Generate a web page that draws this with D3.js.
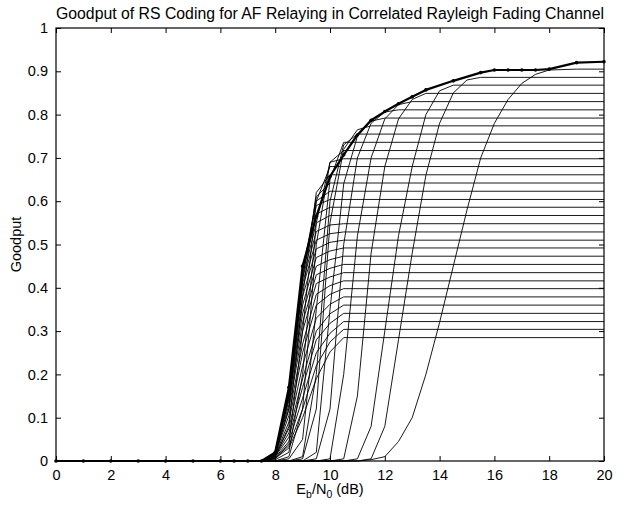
<!DOCTYPE html>
<html>
<head>
<meta charset="utf-8">
<script src="https://cdn.jsdelivr.net/npm/d3@7"></script>
<style>
  body { margin: 0; background: #fff; }
  svg text { font-family: "Liberation Sans", Arial, Helvetica, sans-serif; fill: #000; }
</style>
</head>
<body>
<div id="chart"></div>
<script>
var xTicks = [0, 2, 4, 6, 8, 10, 12, 14, 16, 18, 20];
var yTicks = [0, 0.1, 0.2, 0.3, 0.4, 0.5, 0.6, 0.7, 0.8, 0.9, 1];
var yTickLabels = ["0", "0.1", "0.2", "0.3", "0.4", "0.5", "0.6", "0.7", "0.8", "0.9", "1"];

// best (envelope) goodput, thick line with dots
var envSnr = [0, 1, 2, 3, 4, 5, 6, 6.5, 7, 7.5, 8, 8.5, 9, 9.5, 10, 10.5, 11, 11.5, 12, 12.5, 13, 13.5, 14.5, 15.5, 16, 16.5, 17, 17.5, 18, 19, 20];
var envGoodput = [0, 0, 0, 0, 0, 0, 0, 0, 0, 0, 0.02, 0.17, 0.45, 0.565, 0.657, 0.707, 0.753, 0.787, 0.807, 0.825, 0.841, 0.857, 0.878, 0.897, 0.903, 0.903, 0.903, 0.903, 0.905, 0.92, 0.922];

// one curve per RS code
var curveSnr = [
    [0, 11, 11.5, 12, 12.5, 13, 13.5, 14, 14.5, 15, 15.5, 16, 16.5, 17, 17.5, 18, 19, 20],
    [0, 11, 11.5, 12, 12.5, 13, 13.5, 14, 14.5, 15, 15.5, 20],
    [0, 10.5, 11, 11.5, 12, 12.5, 13, 13.5, 14, 14.5, 20],
    [0, 10, 10.5, 11, 11.5, 12, 12.5, 13, 13.5, 20],
    [0, 9.5, 10, 10.5, 11, 11.5, 12, 12.5, 13, 20],
    [0, 9, 9.5, 10, 10.5, 11, 11.5, 12, 12.5, 20],
    [0, 9, 9.5, 10, 10.5, 11, 11.5, 12, 20],
    [0, 8.5, 9, 9.5, 10, 10.5, 11, 11.5, 20],
    [0, 8.5, 9, 9.5, 10, 10.5, 11, 20],
    [0, 8, 8.5, 9, 9.5, 10, 10.5, 20],
    [0, 8, 8.5, 9, 9.5, 10, 10.5, 20],
    [0, 7.5, 8, 8.5, 9, 9.5, 10, 10.5, 20],
    [0, 7.5, 8, 8.5, 9, 9.5, 10, 20],
    [0, 7.5, 8, 8.5, 9, 9.5, 10, 20],
    [0, 7.5, 8, 8.5, 9, 9.5, 10, 20],
    [0, 7.5, 8, 8.5, 9, 9.5, 10, 20],
    [0, 7.5, 8, 8.5, 9, 9.5, 10, 20],
    [0, 7.5, 8, 8.5, 9, 9.5, 10, 20],
    [0, 7.5, 8, 8.5, 9, 9.5, 10, 20],
    [0, 7.5, 8, 8.5, 9, 9.5, 10, 10.5, 20],
    [0, 7.5, 8, 8.5, 9, 9.5, 10, 10.5, 20],
    [0, 7.5, 8, 8.5, 9, 9.5, 10, 10.5, 20],
    [0, 7.5, 8, 8.5, 9, 9.5, 10, 10.5, 20],
    [0, 7.5, 8, 8.5, 9, 9.5, 10, 10.5, 20],
    [0, 7.5, 8, 8.5, 9, 9.5, 10, 10.5, 20],
    [0, 7.5, 8, 8.5, 9, 9.5, 10, 10.5, 20],
    [0, 7.5, 8, 8.5, 9, 9.5, 10, 10.5, 20],
    [0, 7.5, 8, 8.5, 9, 9.5, 10, 10.5, 20],
    [0, 7.5, 8, 8.5, 9, 9.5, 10, 10.5, 20],
    [0, 7.5, 8, 8.5, 9, 9.5, 10, 10.5, 20],
    [0, 7.5, 8, 8.5, 9, 9.5, 10, 10.5, 20],
    [0, 7.5, 8, 8.5, 9, 9.5, 10, 10.5, 20],
    [0, 7.5, 8, 8.5, 9, 9.5, 10, 10.5, 20],
    [0, 7.5, 8, 8.5, 9, 9.5, 10, 10.5, 20]
];
var curveGoodput = [
    [0, 0, 0.003, 0.01, 0.045, 0.1, 0.2, 0.32, 0.45, 0.58, 0.7, 0.78, 0.835, 0.872, 0.893, 0.903, 0.905, 0.905],
    [0, 0, 0.005, 0.08, 0.28, 0.48, 0.66, 0.78, 0.85, 0.88, 0.886, 0.886],
    [0, 0, 0.005, 0.08, 0.3, 0.52, 0.68, 0.8, 0.855, 0.868, 0.868],
    [0, 0, 0.005, 0.15, 0.48, 0.68, 0.79, 0.835, 0.849, 0.849],
    [0, 0, 0.005, 0.2, 0.52, 0.7, 0.79, 0.823, 0.83, 0.83],
    [0, 0, 0.005, 0.12, 0.5, 0.7, 0.78, 0.806, 0.811, 0.811],
    [0, 0, 0.02, 0.35, 0.64, 0.75, 0.785, 0.792, 0.792],
    [0, 0, 0.005, 0.12, 0.55, 0.72, 0.765, 0.774, 0.774],
    [0, 0, 0.01, 0.2, 0.6, 0.73, 0.755, 0.755],
    [0, 0, 0.005, 0.05, 0.35, 0.65, 0.736, 0.736],
    [0, 0, 0.01, 0.12, 0.5, 0.69, 0.717, 0.717],
    [0, 0, 0.003, 0.02, 0.2, 0.55, 0.69, 0.698, 0.698],
    [0, 0, 0.005, 0.04, 0.3, 0.6, 0.68, 0.68],
    [0, 0, 0.01, 0.08, 0.38, 0.62, 0.661, 0.661],
    [0, 0, 0.015, 0.12, 0.42, 0.61, 0.642, 0.642],
    [0, 0, 0.02, 0.15, 0.44, 0.6, 0.623, 0.623],
    [0, 0, 0.02, 0.16, 0.44, 0.59, 0.604, 0.604],
    [0, 0, 0.02, 0.16, 0.43, 0.57, 0.586, 0.586],
    [0, 0, 0.02, 0.16, 0.42, 0.55, 0.567, 0.567],
    [0, 0, 0.02, 0.16, 0.41, 0.53, 0.545, 0.548, 0.548],
    [0, 0, 0.02, 0.155, 0.4, 0.51, 0.525, 0.529, 0.529],
    [0, 0, 0.02, 0.15, 0.38, 0.49, 0.505, 0.51, 0.51],
    [0, 0, 0.019, 0.145, 0.36, 0.47, 0.485, 0.492, 0.492],
    [0, 0, 0.018, 0.14, 0.34, 0.45, 0.465, 0.473, 0.473],
    [0, 0, 0.017, 0.13, 0.32, 0.43, 0.445, 0.454, 0.454],
    [0, 0, 0.016, 0.12, 0.3, 0.41, 0.425, 0.435, 0.435],
    [0, 0, 0.015, 0.105, 0.27, 0.385, 0.405, 0.416, 0.416],
    [0, 0, 0.013, 0.09, 0.25, 0.36, 0.385, 0.398, 0.398],
    [0, 0, 0.012, 0.075, 0.22, 0.33, 0.362, 0.379, 0.379],
    [0, 0, 0.011, 0.065, 0.19, 0.3, 0.34, 0.36, 0.36],
    [0, 0, 0.01, 0.055, 0.17, 0.28, 0.318, 0.341, 0.341],
    [0, 0, 0.008, 0.045, 0.145, 0.25, 0.295, 0.322, 0.322],
    [0, 0, 0.007, 0.035, 0.12, 0.22, 0.275, 0.304, 0.304],
    [0, 0, 0.006, 0.03, 0.1, 0.19, 0.252, 0.285, 0.285]
];

function init() {
    var W = 635, H = 506;
    var margin = {top: 28, right: 31, bottom: 45, left: 56};
    var w = W - margin.left - margin.right;
    var h = H - margin.top - margin.bottom;

    var svg = d3.select("#chart")
        .append("svg")
        .attr("width", W)
        .attr("height", H);

    var g = svg.append("g")
        .attr("transform", "translate(" + margin.left + "," + margin.top + ")");

    var xScale = d3.scaleLinear().domain([0, 20]).range([0, w]);
    var yScale = d3.scaleLinear().domain([0, 1]).range([h, 0]);

    var line = d3.line()
        .x(function (d) { return xScale(d[0]); })
        .y(function (d) { return yScale(d[1]); });

    // code curves
    g.selectAll(".curve")
        .data(curveSnr.map(function (xs, i) {
            return xs.map(function (x, j) { return [x, curveGoodput[i][j]]; });
        }))
        .enter()
        .append("path")
        .attr("class", "curve")
        .attr("d", line)
        .attr("fill", "none")
        .attr("stroke", "#000")
        .attr("stroke-width", 0.9);

    // envelope
    var env = envSnr.map(function (x, i) { return [x, envGoodput[i]]; });
    g.append("path")
        .attr("d", line(env))
        .attr("fill", "none")
        .attr("stroke", "#000")
        .attr("stroke-width", 2.2)
        .attr("stroke-linejoin", "round");

    g.selectAll(".dot")
        .data(env)
        .enter()
        .append("circle")
        .attr("class", "dot")
        .attr("cx", function (d) { return xScale(d[0]); })
        .attr("cy", function (d) { return yScale(d[1]); })
        .attr("r", 1.8)
        .attr("fill", "#000");

    // axes (MATLAB-like box with inward ticks)
    var tick = 5;
    var xAxis = d3.axisBottom(xScale).tickValues(xTicks).tickSizeInner(-tick).tickSizeOuter(0).tickPadding(9);
    var xAxisTop = d3.axisTop(xScale).tickValues(xTicks).tickSizeInner(-tick).tickSizeOuter(0).tickFormat("");
    var yAxis = d3.axisLeft(yScale).tickValues(yTicks).tickSizeInner(-tick).tickSizeOuter(0).tickPadding(8)
        .tickFormat(function (d, i) { return yTickLabels[i]; });
    var yAxisRight = d3.axisRight(yScale).tickValues(yTicks).tickSizeInner(-tick).tickSizeOuter(0).tickFormat("");

    var axes = [
        g.append("g").attr("transform", "translate(0," + h + ")").call(xAxis),
        g.append("g").call(xAxisTop),
        g.append("g").call(yAxis),
        g.append("g").attr("transform", "translate(" + w + ",0)").call(yAxisRight)
    ];
    axes.forEach(function (a) {
        a.select(".domain").remove();
        a.selectAll("line").attr("stroke", "#000").attr("stroke-width", 1);
        a.selectAll("text").attr("font-size", 14.5).attr("fill", "#000")
            .style("font-family", "'Liberation Sans', Arial, sans-serif");
    });

    g.append("rect")
        .attr("x", 0).attr("y", 0)
        .attr("width", w).attr("height", h)
        .attr("fill", "none")
        .attr("stroke", "#000")
        .attr("stroke-width", 1.2);

    // title
    svg.append("text")
        .attr("x", margin.left + w / 2)
        .attr("y", 19)
        .attr("text-anchor", "middle")
        .attr("font-size", 15.8)
        .text("Goodput of RS Coding for AF Relaying in Correlated Rayleigh Fading Channel");

    // y label
    svg.append("text")
        .attr("transform", "translate(21," + (margin.top + h / 2) + ") rotate(-90)")
        .attr("text-anchor", "middle")
        .attr("font-size", 14.5)
        .text("Goodput");

    // x label with subscripts
    var xl = svg.append("text")
        .attr("x", margin.left + w / 2)
        .attr("y", 494)
        .attr("text-anchor", "middle")
        .attr("font-size", 14.5);
    xl.append("tspan").text("E");
    xl.append("tspan").attr("dy", 4).attr("font-size", 10.5).text("b");
    xl.append("tspan").attr("dy", -4).text("/N");
    xl.append("tspan").attr("dy", 4).attr("font-size", 10.5).text("0");
    xl.append("tspan").attr("dy", -4).text(" (dB)");
}

window.onload = init;
</script>
</body>
</html>
